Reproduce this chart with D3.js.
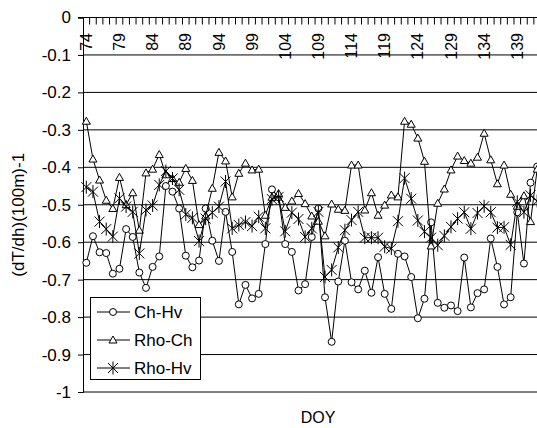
<!DOCTYPE html>
<html>
<head>
<meta charset="utf-8">
<script src="https://cdn.jsdelivr.net/npm/d3@7"></script>
<style>
    body { margin: 0; background: #fff; }
    svg { display: block; font-family: 'Liberation Sans', Arial, sans-serif; }
</style>
</head>
<body>
<svg></svg>
<script>
// day of year categories and the three gradient series
const doy = [74, 75, 76, 77, 78, 79, 80, 81, 82, 83, 84, 85, 86, 87, 88, 89, 90, 91, 92, 93,
    94, 95, 96, 97, 98, 99, 100, 101, 102, 103, 104, 105, 106, 107, 108, 109, 110, 111, 112, 113,
    114, 115, 116, 117, 118, 119, 120, 121, 122, 123, 124, 125, 126, 127, 128, 129, 130, 131, 132, 133,
    134, 135, 136, 137, 138, 139, 140, 141, 142];
const doyLabels = [74, 79, 84, 89, 94, 99, 104, 109, 114, 119, 124, 129, 134, 139];
const yTicks = [0, -0.1, -0.2, -0.3, -0.4, -0.5, -0.6, -0.7, -0.8, -0.9, -1];

const chHv = [-0.655, -0.584, -0.627, -0.629, -0.684, -0.671, -0.565, -0.586, -0.681, -0.722,
    -0.666, -0.638, -0.45, -0.465, -0.51, -0.636, -0.667, -0.649, -0.51, -0.596,
    -0.65, -0.519, -0.626, -0.766, -0.714, -0.75, -0.738, -0.605, -0.459, -0.48,
    -0.605, -0.626, -0.729, -0.712, -0.586, -0.51, -0.747, -0.866, -0.705, -0.596,
    -0.707, -0.726, -0.676, -0.735, -0.64, -0.738, -0.778, -0.631, -0.638, -0.693,
    -0.803, -0.751, -0.547, -0.762, -0.775, -0.769, -0.784, -0.641, -0.774, -0.736,
    -0.726, -0.59, -0.666, -0.766, -0.747, -0.52, -0.657, -0.441, -0.398];
const rhoCh = [-0.277, -0.378, -0.434, -0.488, -0.51, -0.427, -0.5, -0.468, -0.568, -0.415,
    -0.405, -0.366, -0.42, -0.43, -0.44, -0.403, -0.435, -0.553, -0.53, -0.456,
    -0.36, -0.383, -0.479, -0.416, -0.389, -0.407, -0.405, -0.528, -0.48, -0.47,
    -0.507, -0.49, -0.47, -0.497, -0.53, -0.544, -0.583, -0.498, -0.512, -0.515,
    -0.394, -0.394, -0.514, -0.468, -0.528, -0.501, -0.474, -0.479, -0.277, -0.285,
    -0.322, -0.384, -0.61, -0.496, -0.458, -0.407, -0.37, -0.382, -0.389, -0.373,
    -0.309, -0.38, -0.444, -0.394, -0.472, -0.504, -0.476, -0.545, -0.405];
const rhoHv = [-0.453, -0.465, -0.545, -0.565, -0.585, -0.483, -0.505, -0.519, -0.63, -0.514,
    -0.502, -0.447, -0.41, -0.43, -0.46, -0.526, -0.535, -0.597, -0.537, -0.521,
    -0.505, -0.438, -0.563, -0.554, -0.546, -0.557, -0.532, -0.563, -0.485, -0.479,
    -0.571, -0.521, -0.538, -0.586, -0.563, -0.519, -0.693, -0.674, -0.614, -0.568,
    -0.541, -0.519, -0.588, -0.588, -0.588, -0.612, -0.617, -0.544, -0.429, -0.484,
    -0.542, -0.572, -0.588, -0.608, -0.583, -0.559, -0.537, -0.52, -0.564, -0.522,
    -0.504, -0.52, -0.561, -0.56, -0.607, -0.492, -0.52, -0.475, -0.49];

const seriesNames = ['Ch-Hv', 'Rho-Ch', 'Rho-Hv'];
const seriesValues = [chHv, rhoCh, rhoHv];

const width = 537;
const height = 428;
const plotLeft = 83;
const plotTop = 17.5;
const plotBottom = 392;
const plotRight = 540.5;

const svg = d3
    .select('svg')
    .attr('width', width)
    .attr('height', height);

const x = d3.scaleBand().domain(doy).range([plotLeft, plotRight]);
const y = d3.scaleLinear().domain([-1, 0]).range([plotBottom, plotTop]);

// horizontal grid lines
svg.append('g')
    .selectAll('line')
    .data(yTicks.filter((d) => d !== 0))
    .enter()
    .append('line')
    .attr('x1', plotLeft)
    .attr('x2', plotRight)
    .attr('y1', (d) => y(d))
    .attr('y2', (d) => y(d))
    .style('stroke', '#000')
    .style('stroke-width', '1px');

// left axis
const yAxis = svg.append('g')
    .attr('transform', `translate(${plotLeft},0)`)
    .call(d3.axisLeft(y).tickValues(yTicks).tickSize(5).tickPadding(7)
        .tickFormat((d) => (d === 0 ? '0' : d === -1 ? '-1' : d3.format('.1f')(d).replace('−', '-'))));
yAxis.select('.domain').style('stroke', '#000');
yAxis.selectAll('text').style('font-size', '17px').style('fill', '#000').style('font-family', 'Liberation Sans, Arial, sans-serif');

// top axis with category ticks between days
svg.append('line')
    .attr('x1', plotLeft - 5)
    .attr('x2', plotRight)
    .attr('y1', plotTop)
    .attr('y2', plotTop)
    .style('stroke', '#000');
svg.append('g')
    .selectAll('line')
    .data(doy)
    .enter()
    .append('line')
    .attr('x1', (d) => x(d) + x.bandwidth())
    .attr('x2', (d) => x(d) + x.bandwidth())
    .attr('y1', plotTop)
    .attr('y2', plotTop + 7)
    .style('stroke', '#000');
svg.append('g')
    .selectAll('text')
    .data(doyLabels)
    .enter()
    .append('text')
    .attr('transform', (d) => `translate(${x(d) + x.bandwidth() / 2},33) rotate(-90)`)
    .attr('text-anchor', 'end')
    .attr('dy', '0.35em')
    .style('font-size', '16px')
    .text((d) => d);

// series lines and markers
const line = d3.line()
    .x((d, i) => x(doy[i]) + x.bandwidth() / 2)
    .y((d) => y(d));

const markers = [
    (g) => g.append('circle').attr('r', 3.5),
    (g) => g.append('path').attr('d', 'M0,-4L4,3L-4,3Z'),
    (g) => g.append('path').attr('d', 'M-5,-5L5,5M-5,5L5,-5M0,-6.5L0,6.5'),
];

seriesValues.forEach((values, s) => {
    svg.append('path')
        .datum(values)
        .attr('d', line)
        .style('fill', 'none')
        .style('stroke', '#000')
        .style('stroke-width', '1px');
    const pts = svg.append('g')
        .selectAll('g')
        .data(values)
        .enter()
        .append('g')
        .attr('transform', (d, i) => `translate(${x(doy[i]) + x.bandwidth() / 2},${y(d)})`);
    markers[s](pts);
    pts.selectAll('circle, path').style('fill', '#fff').style('stroke', '#000').style('stroke-width', '1px');
});

// legend
const legend = svg.append('g');
legend.append('rect')
    .attr('x', 90.5)
    .attr('y', 297.5)
    .attr('width', 110)
    .attr('height', 82)
    .style('fill', '#fff')
    .style('stroke', '#000');
seriesNames.forEach((name, s) => {
    const ly = 312 + s * 28;
    legend.append('line')
        .attr('x1', 97)
        .attr('x2', 130)
        .attr('y1', ly)
        .attr('y2', ly)
        .style('stroke', '#000');
    const m = legend.append('g').attr('transform', `translate(113,${ly})`);
    markers[s](m);
    m.selectAll('circle, path').style('fill', '#fff').style('stroke', '#000');
    legend.append('text')
        .attr('x', 134)
        .attr('y', ly)
        .attr('dy', '0.35em')
        .style('font-size', '17px')
        .text(name);
});

// axis titles
svg.append('text')
    .attr('x', 318)
    .attr('y', 423)
    .attr('text-anchor', 'middle')
    .style('font-size', '16px')
    .text('DOY');
svg.append('text')
    .attr('transform', `translate(18,${(plotTop + plotBottom) / 2 + 10}) rotate(-90)`)
    .attr('text-anchor', 'middle')
    .attr('dy', '0.35em')
    .style('font-size', '17px')
    .text('(dT/dh)(100m)-1');
</script>
</body>
</html>
